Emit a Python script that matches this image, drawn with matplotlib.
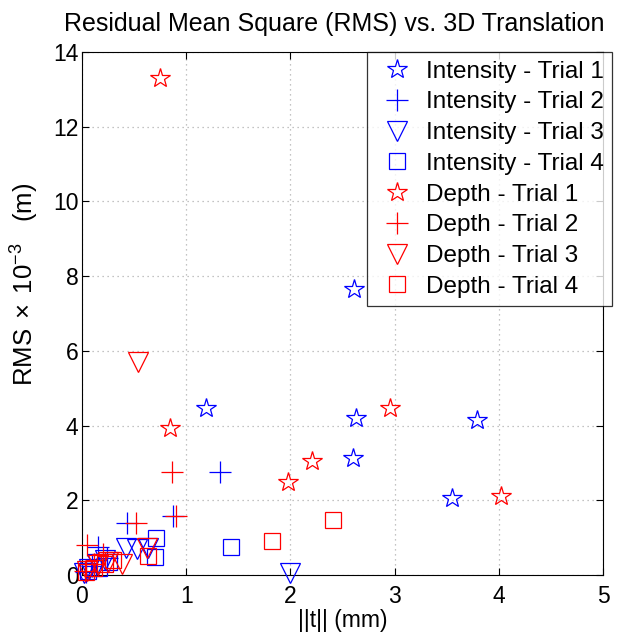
import matplotlib
matplotlib.use("Agg")
import matplotlib.pyplot as plt

plt.rcParams['font.family'] = ['Liberation Sans', 'DejaVu Sans']
plt.rcParams['mathtext.fontset'] = 'custom'
plt.rcParams['mathtext.rm'] = 'Liberation Sans'
plt.rcParams['mathtext.it'] = 'Liberation Sans'

# Translation magnitude ||t|| (mm) and RMS (x1e-3 m) per trial
int_t1_x = [1.19, 2.61, 2.63, 2.60, 3.79, 3.55]
int_t1_y = [4.47, 7.66, 4.20, 3.13, 4.15, 2.06]
int_t2_x = [1.32, 0.43, 0.87, 0.15, 0.24, 0.10, 0.04]
int_t2_y = [2.76, 1.39, 1.58, 0.75, 0.45, 0.25, 0.08]
int_t3_x = [2.00, 0.42, 0.53, 0.63, 0.22, 0.14, 0.07, 0.02]
int_t3_y = [0.05, 0.72, 0.70, 0.72, 0.40, 0.30, 0.15, 0.05]
int_t4_x = [1.43, 0.71, 0.70, 0.26, 0.16, 0.06]
int_t4_y = [0.75, 0.99, 0.48, 0.35, 0.20, 0.10]

dep_t1_x = [0.75, 0.84, 2.96, 2.21, 1.98, 4.02]
dep_t1_y = [13.30, 3.93, 4.47, 3.05, 2.49, 2.11]
dep_t2_x = [0.86, 0.52, 0.90, 0.05, 0.20, 0.12, 0.03]
dep_t2_y = [2.76, 1.39, 1.58, 0.80, 0.55, 0.30, 0.10]
dep_t3_x = [0.54, 0.62, 0.38, 0.25, 0.15, 0.05]
dep_t3_y = [5.70, 0.72, 0.30, 0.35, 0.28, 0.10]
dep_t4_x = [2.41, 1.82, 0.63, 0.22, 0.12, 0.30, 0.04]
dep_t4_y = [1.47, 0.91, 0.50, 0.30, 0.18, 0.40, 0.08]

series = [
    ("Intensity - Trial 1", int_t1_x, int_t1_y, 'blue', '*', 15),
    ("Intensity - Trial 2", int_t2_x, int_t2_y, 'blue', '+', 16),
    ("Intensity - Trial 3", int_t3_x, int_t3_y, 'blue', 'v', 15),
    ("Intensity - Trial 4", int_t4_x, int_t4_y, 'blue', 's', 11),
    ("Depth - Trial 1", dep_t1_x, dep_t1_y, 'red', '*', 15),
    ("Depth - Trial 2", dep_t2_x, dep_t2_y, 'red', '+', 16),
    ("Depth - Trial 3", dep_t3_x, dep_t3_y, 'red', 'v', 15),
    ("Depth - Trial 4", dep_t4_x, dep_t4_y, 'red', 's', 11),
]

FS = 16.5

fig = plt.figure(figsize=(6.21, 6.33), dpi=100)
ax = fig.add_axes([0.132, 0.0916, 0.839, 0.8266])

for label, xs, ys, color, marker, ms in series:
    ax.plot(xs, ys, linestyle='none', marker=marker, markersize=ms,
            markerfacecolor='none', markeredgecolor=color,
            markeredgewidth=0.9, label=label, clip_on=False, zorder=3)

ax.set_xlim(0, 5)
ax.set_ylim(0, 14)
ax.set_xticks(range(0, 6))
ax.set_yticks(range(0, 15, 2))
ax.grid(True, color='#b0b0b0', linestyle=(0, (1, 3)), linewidth=0.9)
ax.tick_params(direction='in', top=True, right=True, length=5,
               labelsize=FS, width=0.8)
ax.tick_params(axis='x', pad=7)
ax.tick_params(axis='y', pad=2.5)
for sp in ax.spines.values():
    sp.set_linewidth(0.8)

ax.set_title("Residual Mean Square (RMS) vs. 3D Translation", fontsize=18,
             pad=15, x=0.485)
ax.set_xlabel("||t|| (mm)", fontsize=FS, labelpad=1)
ax.set_ylabel(r"RMS$\;\times\;$10$^{-3}$$\quad$(m)", fontsize=18.5)
ax.yaxis.set_label_coords(-0.079, 0.555)

leg = ax.legend(loc='upper right', bbox_to_anchor=(612 / 621, 1 - 52 / 633),
                bbox_transform=fig.transFigure, fontsize=17.5,
                frameon=True, fancybox=False, edgecolor='black',
                borderpad=0.35, labelspacing=0.36, handletextpad=0.3,
                handlelength=1.75, borderaxespad=0)
leg.get_frame().set_linewidth(0.9)
leg.set_zorder(5)

fig.savefig("out.png", dpi=100)
